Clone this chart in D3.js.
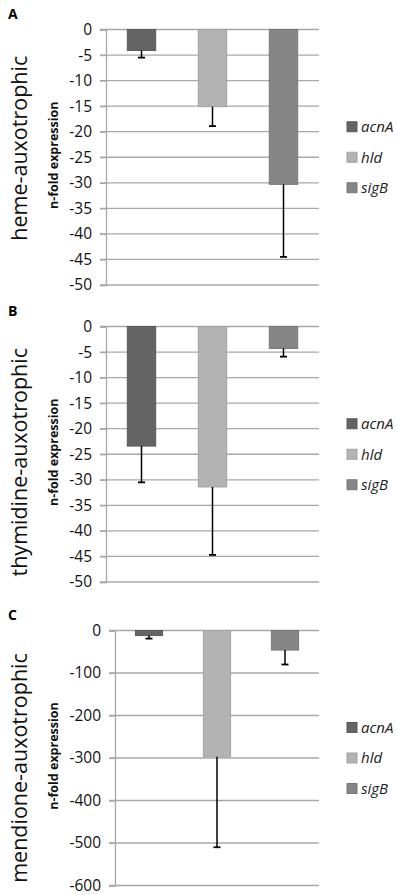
<!DOCTYPE html>
<html>
<head>
<meta charset="utf-8">
<script src="https://cdn.jsdelivr.net/npm/d3@7"></script>
<style>
  body { margin: 0; background: #fff; }
  text { font-family: "Open Sans", sans-serif; }
</style>
</head>
<body>
<div id="chart"></div>
<script>
// data (bar value and end of error bar)
const genes = ["acnA", "hld", "sigB"];
const geneColors = ["#646464", "#b3b3b3", "#868686"];
const panelLetters = ["A", "B", "C"];
const strainLabels = ["heme-auxotrophic", "thymidine-auxotrophic", "mendione-auxotrophic"];

const hemeValues = [-4.1, -15.1, -30.3];
const hemeErrEnds = [-5.5, -18.9, -44.5];
const thymidineValues = [-23.4, -31.4, -4.3];
const thymidineErrEnds = [-30.5, -44.7, -5.9];
const mendioneValues = [-12, -297, -46];
const mendioneErrEnds = [-19, -510, -80];

const yMins = [-50, -50, -600];
const tickSteps = [5, 5, 100];

const width = 397, height = 895;

const svg = d3.select("#chart").append("svg")
    .attr("width", width)
    .attr("height", height);

svg.append("rect").attr("width", width).attr("height", height).attr("fill", "#fff");

// panel frames in page pixels
const panels = [
  {top: 29.5, bottom: 285, left: 106, values: hemeValues, errs: hemeErrEnds, labelShift: -9},
  {top: 326.5, bottom: 582, left: 106, values: thymidineValues, errs: thymidineErrEnds, labelShift: 8},
  {top: 630.5, bottom: 885.5, left: 115, values: mendioneValues, errs: mendioneErrEnds, labelShift: 10}
];
const plotRight = 319;

panels.forEach(function (p, i) {
  let g = svg.append("g");

  let x = d3.scaleBand()
      .domain(genes)
      .range([p.left, plotRight])
      .paddingInner(0.6)
      .paddingOuter(0.3);

  let y = d3.scaleLinear()
      .domain([yMins[i], 0])
      .range([p.bottom, p.top]);

  let ticks = d3.range(0, yMins[i] - 0.001, -tickSteps[i]);

  // gridlines
  g.selectAll(".grid")
      .data(ticks)
      .enter().append("line")
      .attr("x1", p.left - 6)
      .attr("x2", plotRight)
      .attr("y1", d => y(d))
      .attr("y2", d => y(d))
      .attr("stroke", "#a8a8a8")
      .attr("stroke-width", 1.3);

  // y axis
  let axis = g.append("g")
      .attr("transform", "translate(" + p.left + ",0)")
      .call(d3.axisLeft(y).tickValues(ticks).tickSize(6).tickPadding(8)
          .tickFormat(d => String(d)));
  axis.select(".domain").attr("stroke", "#a8a8a8").attr("stroke-width", 1.3);
  axis.selectAll(".tick line").attr("stroke", "#a8a8a8").attr("stroke-width", 1.3);
  axis.selectAll(".tick text")
      .attr("font-family", "'Open Sans', sans-serif")
      .attr("font-size", 15.5)
      .attr("fill", "#111");

  let rows = genes.map((gname, j) => ({gene: gname, value: p.values[j], err: p.errs[j], color: geneColors[j]}));

  // bars
  g.selectAll(".bar")
      .data(rows)
      .enter().append("rect")
      .attr("x", d => x(d.gene))
      .attr("y", y(0))
      .attr("width", x.bandwidth())
      .attr("height", d => y(d.value) - y(0))
      .attr("fill", d => d.color)
      .attr("stroke", d => d3.color(d.color).darker(0.3))
      .attr("stroke-width", 1);

  // error bars
  g.selectAll(".err")
      .data(rows)
      .enter().append("line")
      .attr("x1", d => x(d.gene) + x.bandwidth() / 2)
      .attr("x2", d => x(d.gene) + x.bandwidth() / 2)
      .attr("y1", d => y(d.value))
      .attr("y2", d => y(d.err))
      .attr("stroke", "#000")
      .attr("stroke-width", 1.5);

  g.selectAll(".cap")
      .data(rows)
      .enter().append("line")
      .attr("x1", d => x(d.gene) + x.bandwidth() / 2 - 3.5)
      .attr("x2", d => x(d.gene) + x.bandwidth() / 2 + 3.5)
      .attr("y1", d => y(d.err))
      .attr("y2", d => y(d.err))
      .attr("stroke", "#000")
      .attr("stroke-width", 1.8);

  let midY = (p.top + p.bottom) / 2;

  // legend
  let legend = g.selectAll(".legend")
      .data(rows)
      .enter().append("g")
      .attr("transform", (d, j) => "translate(347," + (midY - 30.5 + j * 30.5) + ")");
  legend.append("rect")
      .attr("x", 0).attr("y", -5)
      .attr("width", 10).attr("height", 10)
      .attr("fill", d => d.color)
      .attr("stroke", d => d3.color(d.color).darker(0.3));
  legend.append("text")
      .attr("x", 14)
      .attr("dy", "0.35em")
      .attr("font-size", 15)
      .attr("font-style", "italic")
      .attr("fill", "#222")
      .text(d => d.gene);

  // axis title
  g.append("text")
      .attr("transform", "translate(58," + (midY - 2) + ") rotate(-90)")
      .attr("text-anchor", "middle")
      .attr("font-size", 12.5)
      .attr("font-weight", "bold")
      .attr("fill", "#111")
      .text("n-fold expression");

  // strain label
  g.append("text")
      .attr("transform", "translate(27," + (midY + p.labelShift) + ") rotate(-90)")
      .attr("text-anchor", "middle")
      .attr("font-size", 21.5)
      .attr("fill", "#111")
      .text(strainLabels[i]);

  // panel letter
  g.append("text")
      .attr("x", 8)
      .attr("y", p.top - 11)
      .attr("font-size", 14)
      .attr("font-weight", "bold")
      .attr("fill", "#000")
      .text(panelLetters[i]);
});
</script>
</body>
</html>
